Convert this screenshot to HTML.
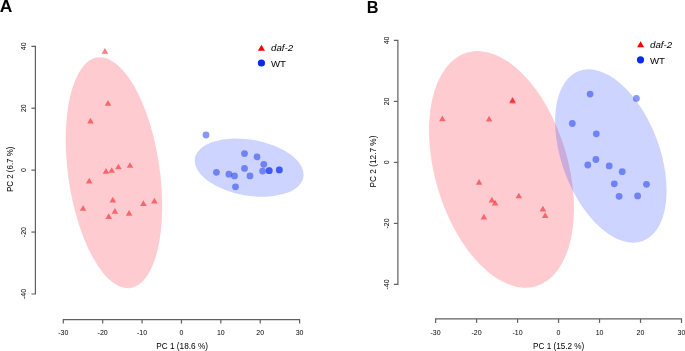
<!DOCTYPE html>
<html><head><meta charset="utf-8"><title>PCA</title>
<style>html,body{margin:0;padding:0;background:#fff;width:685px;height:351px;overflow:hidden}svg{display:block;will-change:transform}</style>
</head><body>
<svg width="685" height="351" viewBox="0 0 685 351" font-family='"Liberation Sans", sans-serif'>
<ellipse cx="113.95" cy="172.7" rx="116.5" ry="45.8" transform="rotate(81.87 113.95 172.7)" fill="rgba(250,0,20,0.2)"/>
<ellipse cx="249.15" cy="167.65" rx="55.05" ry="28.0" transform="rotate(9.85 249.15 167.65)" fill="rgba(0,40,255,0.2)"/>
<ellipse cx="501.5" cy="169.4" rx="121.8" ry="66.5" transform="rotate(73.57 501.5 169.4)" fill="rgba(250,0,20,0.2)"/>
<ellipse cx="610.85" cy="156.0" rx="90.77" ry="48.85" transform="rotate(69.43 610.85 156.0)" fill="rgba(0,40,255,0.2)"/>
<path d="M104.90 47.94L108.20 53.66L101.60 53.66Z" fill="rgba(240,0,10,0.5)"/>
<path d="M108.00 99.94L111.30 105.66L104.70 105.66Z" fill="rgba(240,0,10,0.5)"/>
<path d="M90.50 117.84L93.80 123.56L87.20 123.56Z" fill="rgba(240,0,10,0.5)"/>
<path d="M106.00 168.04L109.30 173.76L102.70 173.76Z" fill="rgba(240,0,10,0.5)"/>
<path d="M111.70 167.14L115.00 172.86L108.40 172.86Z" fill="rgba(240,0,10,0.5)"/>
<path d="M118.40 163.64L121.70 169.36L115.10 169.36Z" fill="rgba(240,0,10,0.5)"/>
<path d="M130.00 162.14L133.30 167.86L126.70 167.86Z" fill="rgba(240,0,10,0.5)"/>
<path d="M89.20 177.74L92.50 183.46L85.90 183.46Z" fill="rgba(240,0,10,0.5)"/>
<path d="M112.80 196.84L116.10 202.56L109.50 202.56Z" fill="rgba(240,0,10,0.5)"/>
<path d="M83.10 205.14L86.40 210.86L79.80 210.86Z" fill="rgba(240,0,10,0.5)"/>
<path d="M143.40 200.24L146.70 205.96L140.10 205.96Z" fill="rgba(240,0,10,0.5)"/>
<path d="M154.40 197.74L157.70 203.46L151.10 203.46Z" fill="rgba(240,0,10,0.5)"/>
<path d="M114.90 207.94L118.20 213.66L111.60 213.66Z" fill="rgba(240,0,10,0.5)"/>
<path d="M108.70 213.24L112.00 218.96L105.40 218.96Z" fill="rgba(240,0,10,0.5)"/>
<path d="M129.10 210.04L132.40 215.76L125.80 215.76Z" fill="rgba(240,0,10,0.5)"/>
<path d="M442.40 115.44L445.70 121.16L439.10 121.16Z" fill="rgba(240,0,10,0.5)"/>
<path d="M489.10 115.74L492.40 121.46L485.80 121.46Z" fill="rgba(240,0,10,0.5)"/>
<path d="M512.50 96.74L515.80 102.46L509.20 102.46Z" fill="rgba(240,0,10,0.5)"/>
<path d="M512.60 97.84L515.90 103.56L509.30 103.56Z" fill="rgba(240,0,10,0.5)"/>
<path d="M479.10 178.94L482.40 184.66L475.80 184.66Z" fill="rgba(240,0,10,0.5)"/>
<path d="M491.90 196.74L495.20 202.46L488.60 202.46Z" fill="rgba(240,0,10,0.5)"/>
<path d="M495.10 199.74L498.40 205.46L491.80 205.46Z" fill="rgba(240,0,10,0.5)"/>
<path d="M518.80 192.64L522.10 198.36L515.50 198.36Z" fill="rgba(240,0,10,0.5)"/>
<path d="M483.90 213.84L487.20 219.56L480.60 219.56Z" fill="rgba(240,0,10,0.5)"/>
<path d="M542.90 205.84L546.20 211.56L539.60 211.56Z" fill="rgba(240,0,10,0.5)"/>
<path d="M545.20 212.24L548.50 217.96L541.90 217.96Z" fill="rgba(240,0,10,0.5)"/>
<circle cx="206.0" cy="135.0" r="3.4" fill="rgba(20,50,235,0.5)"/>
<circle cx="244.5" cy="153.6" r="3.4" fill="rgba(20,50,235,0.5)"/>
<circle cx="257.0" cy="156.9" r="3.4" fill="rgba(20,50,235,0.5)"/>
<circle cx="263.8" cy="164.3" r="3.4" fill="rgba(20,50,235,0.5)"/>
<circle cx="244.5" cy="168.4" r="3.4" fill="rgba(20,50,235,0.5)"/>
<circle cx="216.4" cy="172.3" r="3.4" fill="rgba(20,50,235,0.5)"/>
<circle cx="228.9" cy="174.2" r="3.4" fill="rgba(20,50,235,0.5)"/>
<circle cx="234.5" cy="175.9" r="3.4" fill="rgba(20,50,235,0.5)"/>
<circle cx="250.0" cy="175.9" r="3.4" fill="rgba(20,50,235,0.5)"/>
<circle cx="262.6" cy="171.1" r="3.4" fill="rgba(20,50,235,0.5)"/>
<circle cx="269.2" cy="170.7" r="3.4" fill="rgba(20,50,235,0.5)"/>
<circle cx="269.2" cy="170.7" r="3.4" fill="rgba(20,50,235,0.5)"/>
<circle cx="279.3" cy="169.9" r="3.4" fill="rgba(20,50,235,0.5)"/>
<circle cx="279.3" cy="169.9" r="3.4" fill="rgba(20,50,235,0.5)"/>
<circle cx="235.5" cy="186.8" r="3.4" fill="rgba(20,50,235,0.5)"/>
<circle cx="590.1" cy="94.1" r="3.4" fill="rgba(20,50,235,0.5)"/>
<circle cx="636.4" cy="98.4" r="3.4" fill="rgba(20,50,235,0.5)"/>
<circle cx="572.3" cy="123.5" r="3.4" fill="rgba(20,50,235,0.5)"/>
<circle cx="596.3" cy="133.8" r="3.4" fill="rgba(20,50,235,0.5)"/>
<circle cx="587.8" cy="165.0" r="3.4" fill="rgba(20,50,235,0.5)"/>
<circle cx="595.9" cy="159.5" r="3.4" fill="rgba(20,50,235,0.5)"/>
<circle cx="609.2" cy="165.9" r="3.4" fill="rgba(20,50,235,0.5)"/>
<circle cx="622.2" cy="171.7" r="3.4" fill="rgba(20,50,235,0.5)"/>
<circle cx="614.3" cy="183.8" r="3.4" fill="rgba(20,50,235,0.5)"/>
<circle cx="646.5" cy="184.3" r="3.4" fill="rgba(20,50,235,0.5)"/>
<circle cx="619.1" cy="196.3" r="3.4" fill="rgba(20,50,235,0.5)"/>
<circle cx="637.6" cy="195.9" r="3.4" fill="rgba(20,50,235,0.5)"/>
<path d="M63.3 323.6V319.6H299.6V323.6" fill="none" stroke="#606060" stroke-width="1.2"/>
<text x="63.30" y="335.3" font-size="7" text-anchor="middle" fill="#000">-30</text>
<path d="M102.68 319.6V323.6" stroke="#606060" stroke-width="1.2"/>
<text x="102.68" y="335.3" font-size="7" text-anchor="middle" fill="#000">-20</text>
<path d="M142.07 319.6V323.6" stroke="#606060" stroke-width="1.2"/>
<text x="142.07" y="335.3" font-size="7" text-anchor="middle" fill="#000">-10</text>
<path d="M181.45 319.6V323.6" stroke="#606060" stroke-width="1.2"/>
<text x="181.45" y="335.3" font-size="7" text-anchor="middle" fill="#000">0</text>
<path d="M220.83 319.6V323.6" stroke="#606060" stroke-width="1.2"/>
<text x="220.83" y="335.3" font-size="7" text-anchor="middle" fill="#000">10</text>
<path d="M260.22 319.6V323.6" stroke="#606060" stroke-width="1.2"/>
<text x="260.22" y="335.3" font-size="7" text-anchor="middle" fill="#000">20</text>
<text x="299.60" y="335.3" font-size="7" text-anchor="middle" fill="#000">30</text>
<path d="M31.4 46.3H35.4V294.0H31.4" fill="none" stroke="#606060" stroke-width="1.2"/>
<text transform="translate(26.1 46.30) rotate(-90)" font-size="7" text-anchor="middle" fill="#000">40</text>
<path d="M31.4 108.22H35.4" stroke="#606060" stroke-width="1.2"/>
<text transform="translate(26.1 108.22) rotate(-90)" font-size="7" text-anchor="middle" fill="#000">20</text>
<path d="M31.4 170.15H35.4" stroke="#606060" stroke-width="1.2"/>
<text transform="translate(26.1 170.15) rotate(-90)" font-size="7" text-anchor="middle" fill="#000">0</text>
<path d="M31.4 232.07H35.4" stroke="#606060" stroke-width="1.2"/>
<text transform="translate(26.1 232.07) rotate(-90)" font-size="7" text-anchor="middle" fill="#000">-20</text>
<text transform="translate(26.1 294.00) rotate(-90)" font-size="7" text-anchor="middle" fill="#000">-40</text>
<text x="182.1" y="348.9" font-size="9.7" text-anchor="middle" fill="#000" textLength="51.7" lengthAdjust="spacingAndGlyphs">PC 1 (18.6 %)</text>
<text transform="translate(13.3 169.3) rotate(-90)" font-size="9.7" text-anchor="middle" fill="#000" textLength="45.6" lengthAdjust="spacingAndGlyphs">PC 2 (6.7 %)</text>
<path d="M435.6 322.9V318.9H681.5V322.9" fill="none" stroke="#606060" stroke-width="1.2"/>
<text x="435.60" y="334.7" font-size="7" text-anchor="middle" fill="#000">-30</text>
<path d="M476.58 318.9V322.9" stroke="#606060" stroke-width="1.2"/>
<text x="476.58" y="334.7" font-size="7" text-anchor="middle" fill="#000">-20</text>
<path d="M517.57 318.9V322.9" stroke="#606060" stroke-width="1.2"/>
<text x="517.57" y="334.7" font-size="7" text-anchor="middle" fill="#000">-10</text>
<path d="M558.55 318.9V322.9" stroke="#606060" stroke-width="1.2"/>
<text x="558.55" y="334.7" font-size="7" text-anchor="middle" fill="#000">0</text>
<path d="M599.53 318.9V322.9" stroke="#606060" stroke-width="1.2"/>
<text x="599.53" y="334.7" font-size="7" text-anchor="middle" fill="#000">10</text>
<path d="M640.52 318.9V322.9" stroke="#606060" stroke-width="1.2"/>
<text x="640.52" y="334.7" font-size="7" text-anchor="middle" fill="#000">20</text>
<text x="681.50" y="334.7" font-size="7" text-anchor="middle" fill="#000">30</text>
<path d="M393.9 40.4H397.9V284.4H393.9" fill="none" stroke="#606060" stroke-width="1.2"/>
<text transform="translate(389.4 40.40) rotate(-90)" font-size="7" text-anchor="middle" fill="#000">40</text>
<path d="M393.9 101.40H397.9" stroke="#606060" stroke-width="1.2"/>
<text transform="translate(389.4 101.40) rotate(-90)" font-size="7" text-anchor="middle" fill="#000">20</text>
<path d="M393.9 162.40H397.9" stroke="#606060" stroke-width="1.2"/>
<text transform="translate(389.4 162.40) rotate(-90)" font-size="7" text-anchor="middle" fill="#000">0</text>
<path d="M393.9 223.40H397.9" stroke="#606060" stroke-width="1.2"/>
<text transform="translate(389.4 223.40) rotate(-90)" font-size="7" text-anchor="middle" fill="#000">-20</text>
<text transform="translate(389.4 284.40) rotate(-90)" font-size="7" text-anchor="middle" fill="#000">-40</text>
<text x="558.7" y="348.5" font-size="9.7" text-anchor="middle" fill="#000" textLength="51.3" lengthAdjust="spacingAndGlyphs">PC 1 (15.2 %)</text>
<text transform="translate(375.9 161.5) rotate(-90)" font-size="9.7" text-anchor="middle" fill="#000" textLength="51.8" lengthAdjust="spacingAndGlyphs">PC 2 (12.7 %)</text>
<path d="M261.45 44.68L265.00 50.82L257.90 50.82Z" fill="#ff0000"/>
<circle cx="261.45" cy="63.0" r="3.6" fill="#0a2af0"/>
<text x="271.0" y="51.2" font-size="9.3" font-style="italic" fill="#000" textLength="22.2" lengthAdjust="spacingAndGlyphs">daf-2</text>
<text x="271.0" y="66.9" font-size="9.3" fill="#000" textLength="15.0" lengthAdjust="spacingAndGlyphs">WT</text>
<path d="M640.60 41.23L644.15 47.37L637.05 47.37Z" fill="#ff0000"/>
<circle cx="640.5" cy="59.8" r="3.6" fill="#0a2af0"/>
<text x="650.0" y="47.9" font-size="9.3" font-style="italic" fill="#000" textLength="22.2" lengthAdjust="spacingAndGlyphs">daf-2</text>
<text x="650.0" y="63.6" font-size="9.3" fill="#000" textLength="15.0" lengthAdjust="spacingAndGlyphs">WT</text>
<text x="-0.3" y="11.7" font-size="16.6" font-weight="bold" fill="#000" textLength="12.6" lengthAdjust="spacingAndGlyphs">A</text>
<text x="366.8" y="12.7" font-size="16.3" font-weight="bold" fill="#000">B</text>
</svg>
</body></html>
